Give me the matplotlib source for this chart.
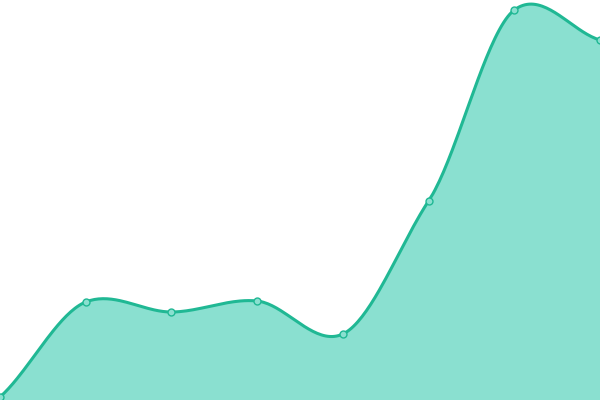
import matplotlib
matplotlib.use('Agg')
import matplotlib.pyplot as plt
import numpy as np

# Значения ряда (читаются с картинки)
categories = [0, 1, 2, 3, 4, 5, 6, 7]
values = [3, 98, 88, 99, 66, 199, 390, 360]

line_color = '#20b894'
fill_color = '#8ae0d0'


def smooth_curve(xs, ys, tension=0.8, steps=40):
    """Сглаживание кривой кубическим сплайном Эрмита"""
    xs = np.asarray(xs, dtype=float)
    ys = np.asarray(ys, dtype=float)
    n = len(ys)
    m = np.zeros(n)
    for i in range(n):
        lo, hi = max(i - 1, 0), min(i + 1, n - 1)
        m[i] = tension * (ys[hi] - ys[lo]) / (xs[hi] - xs[lo])
    out_x, out_y = [], []
    for i in range(n - 1):
        h = xs[i + 1] - xs[i]
        t = np.linspace(0, 1, steps, endpoint=False)
        h00 = 2 * t ** 3 - 3 * t ** 2 + 1
        h10 = t ** 3 - 2 * t ** 2 + t
        h01 = -2 * t ** 3 + 3 * t ** 2
        h11 = t ** 3 - t ** 2
        yy = h00 * ys[i] + h10 * h * m[i] + h01 * ys[i + 1] + h11 * h * m[i + 1]
        out_x.extend(xs[i] + t * h)
        out_y.extend(yy)
    out_x.append(xs[-1])
    out_y.append(ys[-1])
    return np.array(out_x), np.array(out_y)


sx, sy = smooth_curve(categories, values)

fig = plt.figure(figsize=(6, 4), dpi=100)
ax = fig.add_axes([0, 0, 1, 1])
ax.fill_between(sx, sy, 0, color=fill_color, linewidth=0)
ax.plot(sx, sy, color=line_color, linewidth=2.2, solid_capstyle='round')
ax.plot(categories, values, 'o', markersize=5, markerfacecolor=fill_color,
        markeredgecolor=line_color, markeredgewidth=1, clip_on=True)
ax.set_xlim(0, 7)
ax.set_ylim(0, 400)
ax.axis('off')
fig.savefig('out.png', dpi=100)
